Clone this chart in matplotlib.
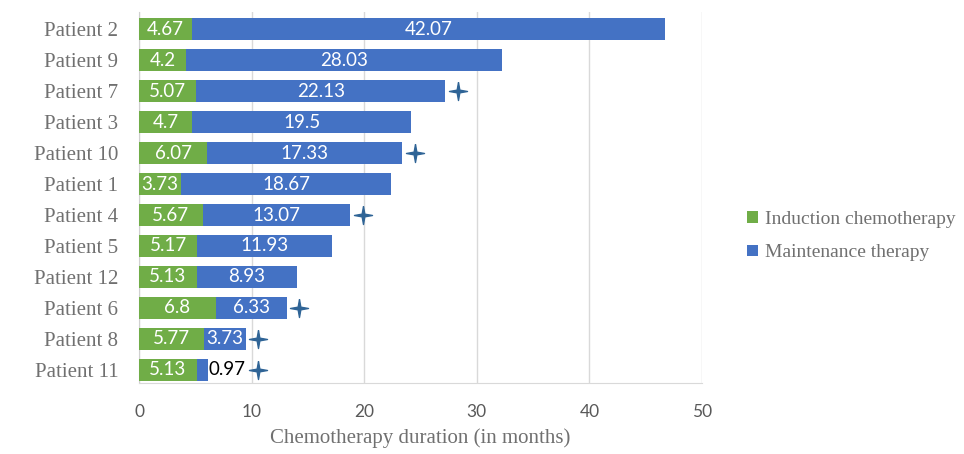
import matplotlib.pyplot as plt
from matplotlib import transforms
import numpy as np

# données (de haut en bas)
patients = ["Patient 2", "Patient 9", "Patient 7", "Patient 3", "Patient 10", "Patient 1",
            "Patient 4", "Patient 5", "Patient 12", "Patient 6", "Patient 8", "Patient 11"]
induction = [4.67, 4.2, 5.07, 4.7, 6.07, 3.73, 5.67, 5.17, 5.13, 6.8, 5.77, 5.13]
maintenance = [42.07, 28.03, 22.13, 19.5, 17.33, 18.67, 13.07, 11.93, 8.93, 6.33, 3.73, 0.97]
ongoing = [False, False, True, False, True, False, True, False, False, True, True, True]

green = "#70AD47"
blue = "#4472C4"
grey_txt = "#707070"

# on inverse pour avoir Patient 2 en haut
patients = patients[::-1]
induction = induction[::-1]
maintenance = maintenance[::-1]
ongoing = ongoing[::-1]
y = np.arange(len(patients))

fig = plt.figure(figsize=(9.64, 4.54), dpi=100)
ax = fig.add_axes([0.1442, 0.1564, 0.5840, 0.8172])

ax.barh(y, induction, height=0.71, color=green, label="Induction chemotherapy", zorder=3)
ax.barh(y, maintenance, left=induction, height=0.71, color=blue,
        label="Maintenance therapy", zorder=3)

# forme de l'étoile (4 branches)
star = [(0, 1), (0.15, 0.15), (1, 0), (0.15, -0.15), (0, -1),
        (-0.15, -0.15), (-1, 0), (-0.15, 0.15), (0, 1)]

# étiquettes des valeurs
for i in range(len(y)):
    ax.text(induction[i] / 2, y[i], f"{induction[i]:g}", ha="center", va="center",
            color="white", fontsize=13.5, family="Lato", zorder=4)
    total = induction[i] + maintenance[i]
    if maintenance[i] > 2:
        ax.text(induction[i] + maintenance[i] / 2, y[i], f"{maintenance[i]:g}",
                ha="center", va="center", color="white", fontsize=13.5, family="Lato", zorder=4)
        offset = 9
    else:
        ax.text(total + 0.1, y[i], f"{maintenance[i]:g}", ha="left", va="center",
                color="black", fontsize=13.5, family="Lato", zorder=4)
        offset = 36

    # étoile pour les traitements en cours
    if ongoing[i]:
        tr = ax.transData + transforms.ScaledTranslation(offset / 72, 0, fig.dpi_scale_trans)
        ax.plot([total], [y[i]], marker=star, markersize=13, color="#2F6496",
                linestyle="none", zorder=5, clip_on=False, transform=tr)

ax.set_xlim(0, 50)
ax.set_ylim(-0.42, 11.55)
ax.set_xticks(range(0, 51, 10))
ax.set_yticks(y)
ax.set_yticklabels(patients, family="Liberation Serif", fontsize=15, color=grey_txt)
for lab in ax.get_xticklabels():
    lab.set_family("Lato")
    lab.set_fontsize(12.5)
    lab.set_color("#595959")

ax.tick_params(axis="x", length=0, pad=15)
ax.tick_params(axis="y", length=0, pad=15)
ax.grid(axis="x", color="#D9D9D9", linewidth=1, zorder=0)

for s in ["top", "right"]:
    ax.spines[s].set_visible(False)
ax.spines["left"].set_color("#D0D0D0")
ax.spines["bottom"].set_color("#D9D9D9")

ax.set_xlabel("Chemotherapy duration (in months)", family="Liberation Serif",
              fontsize=15, color=grey_txt, labelpad=6)

leg = fig.legend(handles=ax.get_legend_handles_labels()[0][:2], loc="center left",
                 bbox_to_anchor=(0.765, 0.48), frameon=False, borderpad=0,
                 prop={"family": "Liberation Serif", "size": 14},
                 handlelength=0.55, handleheight=0.55, handletextpad=0.35, labelspacing=0.85)
for t in leg.get_texts():
    t.set_color(grey_txt)

fig.savefig("out.png", dpi=100)
